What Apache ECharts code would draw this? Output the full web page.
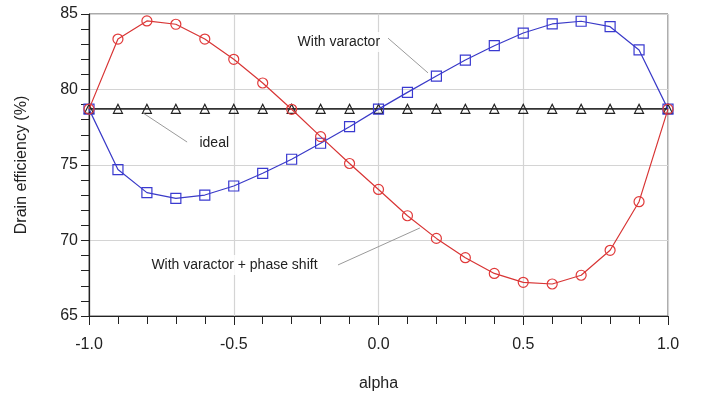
<!DOCTYPE html>
<html>
<head>
<meta charset="utf-8">
<script src="https://cdn.jsdelivr.net/npm/echarts@6/dist/echarts.min.js"></script>
<style>
  html, body { margin: 0; padding: 0; background: #fff; }
  #myChart { width: 704px; height: 399px; }
</style>
</head>
<body>
<div id="myChart"></div>
<script>
let alphas = [-1.0, -0.9, -0.8, -0.7, -0.6, -0.5, -0.4, -0.3, -0.2, -0.1, 0.0,
              0.1, 0.2, 0.3, 0.4, 0.5, 0.6, 0.7, 0.8, 0.9, 1.0]

let withVaractor = [78.7, 74.7, 73.17, 72.79, 73.01, 73.61, 74.45, 75.38, 76.44, 77.54, 78.7,
                    79.81, 80.89, 81.95, 82.9, 83.74, 84.34, 84.52, 84.16, 82.62, 78.7]

let withPhaseShift = [78.7, 83.34, 84.54, 84.32, 83.34, 82.0, 80.43, 78.69, 76.88, 75.1, 73.38,
                      71.64, 70.14, 68.86, 67.82, 67.23, 67.12, 67.7, 69.35, 72.57, 78.7]

let ideal = [78.72, 78.72, 78.72, 78.72, 78.72, 78.72, 78.72, 78.72, 78.72, 78.72, 78.72,
             78.72, 78.72, 78.72, 78.72, 78.72, 78.72, 78.72, 78.72, 78.72, 78.72]

// annotation labels: text position and leader line ends, in data space
let notes = [
    { text: 'With varactor', at: [-0.295, 83.15], from: [0.033, 83.4], to: [0.171, 81.1] },
    { text: 'ideal', at: [-0.634, 76.46], from: [-0.813, 78.44], to: [-0.661, 76.52] },
    { text: 'With varactor + phase shift', at: [-0.8, 68.38], from: [-0.14, 68.38], to: [0.143, 70.83] }
]

function pairs(ys) {
    return alphas.map(function (a, i) { return [a, ys[i]] })
}

let fontFamily = '"Liberation Sans", Arial, sans-serif'

let myChart = echarts.init(document.getElementById('myChart'))

let option = {
    animation: false,
    textStyle: { fontFamily: fontFamily },
    grid: {
        left: 89, right: 36, top: 14, bottom: 83,
        show: true,
        borderColor: '#555',
        borderWidth: 1
    },
    xAxis: {
        type: 'value',
        min: -1,
        max: 1,
        interval: 0.5,
        name: 'alpha',
        nameLocation: 'middle',
        nameGap: 60,
        nameTextStyle: { fontSize: 16, color: '#222', fontFamily: fontFamily },
        axisLine: { onZero: false, lineStyle: { color: '#222', width: 1.2 } },
        axisTick: { inside: false, length: 9, lineStyle: { color: '#222' } },
        minorTick: { show: true, splitNumber: 5, length: 8, lineStyle: { color: '#222' } },
        splitLine: { show: true, lineStyle: { color: '#d4d4d4', width: 1.2 } },
        axisLabel: {
            fontSize: 16, color: '#222', margin: 21,
            formatter: function (v) { return v.toFixed(1) }
        }
    },
    yAxis: {
        type: 'value',
        min: 65,
        max: 85,
        interval: 5,
        name: 'Drain efficiency (%)',
        nameLocation: 'middle',
        nameGap: 59,
        nameRotate: 90,
        nameTextStyle: { fontSize: 16, color: '#222', fontFamily: fontFamily },
        axisLine: { show: true, onZero: false, lineStyle: { color: '#222', width: 1.2 } },
        axisTick: { inside: false, length: 8, lineStyle: { color: '#222' } },
        minorTick: { show: true, splitNumber: 5, length: 8, lineStyle: { color: '#222' } },
        splitLine: { show: true, lineStyle: { color: '#d4d4d4', width: 1.2 } },
        axisLabel: { fontSize: 16, color: '#222', margin: 11 }
    },
    series: [
        {
            name: 'ideal',
            type: 'line',
            data: pairs(ideal),
            symbol: 'triangle',
            symbolSize: 9,
            itemStyle: { color: 'rgba(0,0,0,0)', borderColor: '#222', borderWidth: 1.2 },
            lineStyle: { color: '#333', width: 1.6 },
            z: 2
        },
        {
            name: 'With varactor',
            type: 'line',
            data: pairs(withVaractor),
            symbol: 'rect',
            symbolSize: 10,
            itemStyle: { color: 'rgba(0,0,0,0)', borderColor: '#3a3ad0', borderWidth: 1.2 },
            lineStyle: { color: '#3a3ac8', width: 1.2 },
            z: 3
        },
        {
            name: 'With varactor + phase shift',
            type: 'line',
            data: pairs(withPhaseShift),
            symbol: 'circle',
            symbolSize: 10,
            itemStyle: { color: 'rgba(0,0,0,0)', borderColor: '#e03a3a', borderWidth: 1.2 },
            lineStyle: { color: '#d83535', width: 1.2 },
            z: 4
        },
        {
            name: 'leaders',
            type: 'line',
            data: [],
            silent: true,
            markLine: {
                symbol: ['none', 'none'],
                silent: true,
                label: { show: false },
                lineStyle: { color: '#9a9a9a', width: 1, type: 'solid' },
                data: notes.map(function (n) {
                    return [{ coord: n.from }, { coord: n.to }]
                })
            },
            markPoint: {
                symbol: 'rect',
                symbolSize: 1,
                itemStyle: { color: 'rgba(255,255,255,0)' },
                label: {
                    show: true,
                    position: 'right',
                    distance: 0,
                    fontSize: 14,
                    color: '#222',
                    fontFamily: fontFamily,
                    backgroundColor: 'rgba(255,255,255,0.85)',
                    padding: [3, 4],
                    formatter: function (p) { return p.name }
                },
                data: notes.map(function (n) {
                    return { name: n.text, coord: n.at }
                })
            },
            z: 5
        }
    ]
}

myChart.setOption(option, true)
</script>
</body>
</html>
